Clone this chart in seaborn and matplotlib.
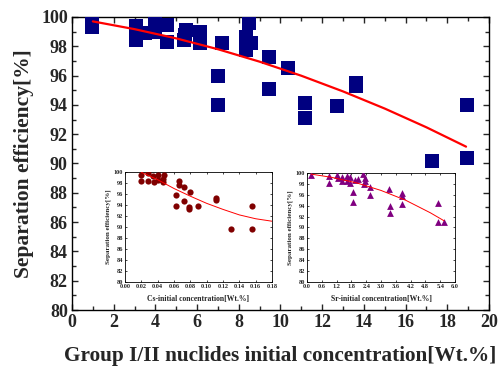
import numpy as np
import pandas as pd
import seaborn as sns
import matplotlib.pyplot as plt

# main plot: all group I/II nuclides
grp_x = [0.95, 0.95, 3.07, 3.07, 3.5, 4.0, 4.0, 4.54, 4.57, 5.37, 5.47, 5.4, 6.14, 6.14,
         7.18, 7.02, 7.02, 8.33, 8.33, 8.5, 8.57, 9.45, 9.45, 10.37, 11.18, 11.18,
         12.72, 13.6, 13.6, 17.28, 18.93, 18.93]
grp_y = [99.3, 99.6, 99.4, 98.4, 98.9, 99.8, 99.0, 99.45, 98.3, 98.4, 99.1, 98.8, 99.0, 98.2,
         98.2, 96.0, 94.0, 98.65, 97.75, 99.6, 98.2, 97.3, 95.1, 96.5, 94.1, 93.1,
         93.9, 95.5, 95.3, 90.2, 90.4, 94.0]
grp_fit_x = [1, 3, 5, 7, 9, 11, 13, 15, 17, 18.9]
grp_fit_y = [99.7, 99.17, 98.54, 97.8, 96.95, 95.99, 94.92, 93.75, 92.47, 91.15]

# Cs inset
cs_x = [0.0192, 0.0192, 0.0285, 0.0285, 0.0347, 0.0359, 0.0404, 0.0404, 0.0465, 0.0478, 0.047,
        0.0624, 0.0624, 0.066, 0.0665, 0.0726, 0.0726, 0.0796, 0.0786, 0.0786, 0.0898,
        0.112, 0.112, 0.1298, 0.156, 0.156]
cs_y = [99.45, 98.4, 99.8, 98.4, 99.2, 98.1, 99.45, 98.5, 98.8, 99.45, 98.2,
        95.8, 93.8, 98.4, 97.6, 97.3, 94.7, 96.3, 93.6, 93.3, 93.8,
        95.2, 94.9, 89.6, 93.8, 89.7]
cs_fit_x = [0.02, 0.04, 0.06, 0.08, 0.10, 0.12, 0.14, 0.16, 0.18]
cs_fit_y = [99.95, 98.6, 97.0, 95.6, 94.3, 93.2, 92.2, 91.5, 91.05]

# Sr inset
sr_x = [0.16, 0.9, 0.9, 1.2, 1.27, 1.41, 1.41, 1.61, 1.61, 1.74, 1.74, 1.95, 2.08,
        1.85, 1.85, 2.28, 2.35, 2.35, 2.3, 2.55, 2.55, 3.32, 3.36, 3.36,
        3.84, 3.84, 3.84, 5.32, 5.32, 5.55]
sr_y = [99.6, 99.45, 98.2, 99.6, 99.0, 99.3, 98.6, 99.45, 98.6, 99.3, 98.2, 98.7, 98.9,
        96.45, 94.7, 99.9, 99.1, 98.5, 97.9, 97.5, 96.0, 97.0, 94.0, 92.7,
        96.3, 95.8, 94.3, 94.55, 91.1, 91.1]
sr_fit_x = [0.16, 1.0, 2.0, 3.0, 4.0, 5.0, 5.55]
sr_fit_y = [99.8, 99.2, 98.2, 96.8, 95.0, 92.7, 91.25]

sns.set_style('ticks')
plt.rcParams['font.family'] = ['Liberation Serif', 'DejaVu Serif']
plt.rcParams['font.weight'] = 'bold'
plt.rcParams['xtick.direction'] = 'in'
plt.rcParams['ytick.direction'] = 'in'

fig = plt.figure(figsize=(5.01, 3.71), dpi=100)


def style_axes(ax, lw, size, pad):
    for s in ax.spines.values():
        s.set_linewidth(lw)
        s.set_color('black')
    ax.tick_params(which='both', top=True, right=True, width=lw, pad=pad, labelsize=size)
    ax.tick_params(which='major', length=size * 0.35)
    ax.tick_params(which='minor', length=size * 0.2)


ax = fig.add_axes([0.1437, 0.1644, 0.8323, 0.7898])
sns.scatterplot(x=grp_x, y=grp_y, marker='s', s=90, color='#000080', edgecolor='#000080',
                linewidth=0, ax=ax, zorder=3)
sns.lineplot(x=grp_fit_x, y=grp_fit_y, color='red', linewidth=1.6, ax=ax, zorder=4)
ax.set_xlim(0, 20)
ax.set_ylim(80, 100)
ax.set_xticks(np.arange(0, 21, 2))
ax.set_xticks(np.arange(0, 21, 1), minor=True)
ax.set_yticks(np.arange(80, 101, 2))
ax.set_yticks(np.arange(80, 101, 1), minor=True)
style_axes(ax, 1.0, 13, 3)
ax.set_xlabel('Group I/II nuclides initial concentration[Wt.%]', fontsize=15.3,
              fontweight='bold', labelpad=11)
ax.set_ylabel('Separation efficiency[%]', fontsize=15.5, fontweight='bold', labelpad=5)

# Cs inset
ax1 = fig.add_axes([0.2495, 0.2399, 0.2934, 0.2965])
sns.scatterplot(x=cs_x, y=cs_y, marker='o', s=20, color='#800000', edgecolor='#800000',
                linewidth=0, ax=ax1, zorder=3)
sns.lineplot(x=cs_fit_x, y=cs_fit_y, color='red', linewidth=0.7, ax=ax1, zorder=4)
ax1.set_xlim(0, 0.18)
ax1.set_ylim(80, 100)
ax1.set_xticks(np.arange(0, 0.181, 0.02))
ax1.set_xticklabels(['%.2f' % v for v in np.arange(0, 0.181, 0.02)])
ax1.set_yticks(np.arange(80, 101, 2))
style_axes(ax1, 0.6, 4.5, 1.5)
ax1.set_xlabel('Cs-initial concentration[Wt.%]', fontsize=5.5, fontweight='bold', labelpad=4)
ax1.set_ylabel('Separation efficiency[%]', fontsize=5, fontweight='bold', labelpad=2)

# Sr inset
ax2 = fig.add_axes([0.6128, 0.2399, 0.2954, 0.2938])
sns.scatterplot(x=sr_x, y=sr_y, marker='^', s=24, color='#800080', edgecolor='#800080',
                linewidth=0, ax=ax2, zorder=3)
sns.lineplot(x=sr_fit_x, y=sr_fit_y, color='red', linewidth=0.7, ax=ax2, zorder=4)
ax2.set_xlim(0, 6.0)
ax2.set_ylim(80, 100)
ax2.set_xticks(np.arange(0, 6.01, 0.6))
ax2.set_xticklabels(['%.1f' % v for v in np.arange(0, 6.01, 0.6)])
ax2.set_yticks(np.arange(80, 101, 2))
style_axes(ax2, 0.6, 4.5, 1.5)
ax2.set_xlabel('Sr-initial concentration[Wt.%]', fontsize=5.5, fontweight='bold', labelpad=4)
ax2.set_ylabel('Separation efficiency[%]', fontsize=5, fontweight='bold', labelpad=2)

fig.savefig('out.png', dpi=100)
